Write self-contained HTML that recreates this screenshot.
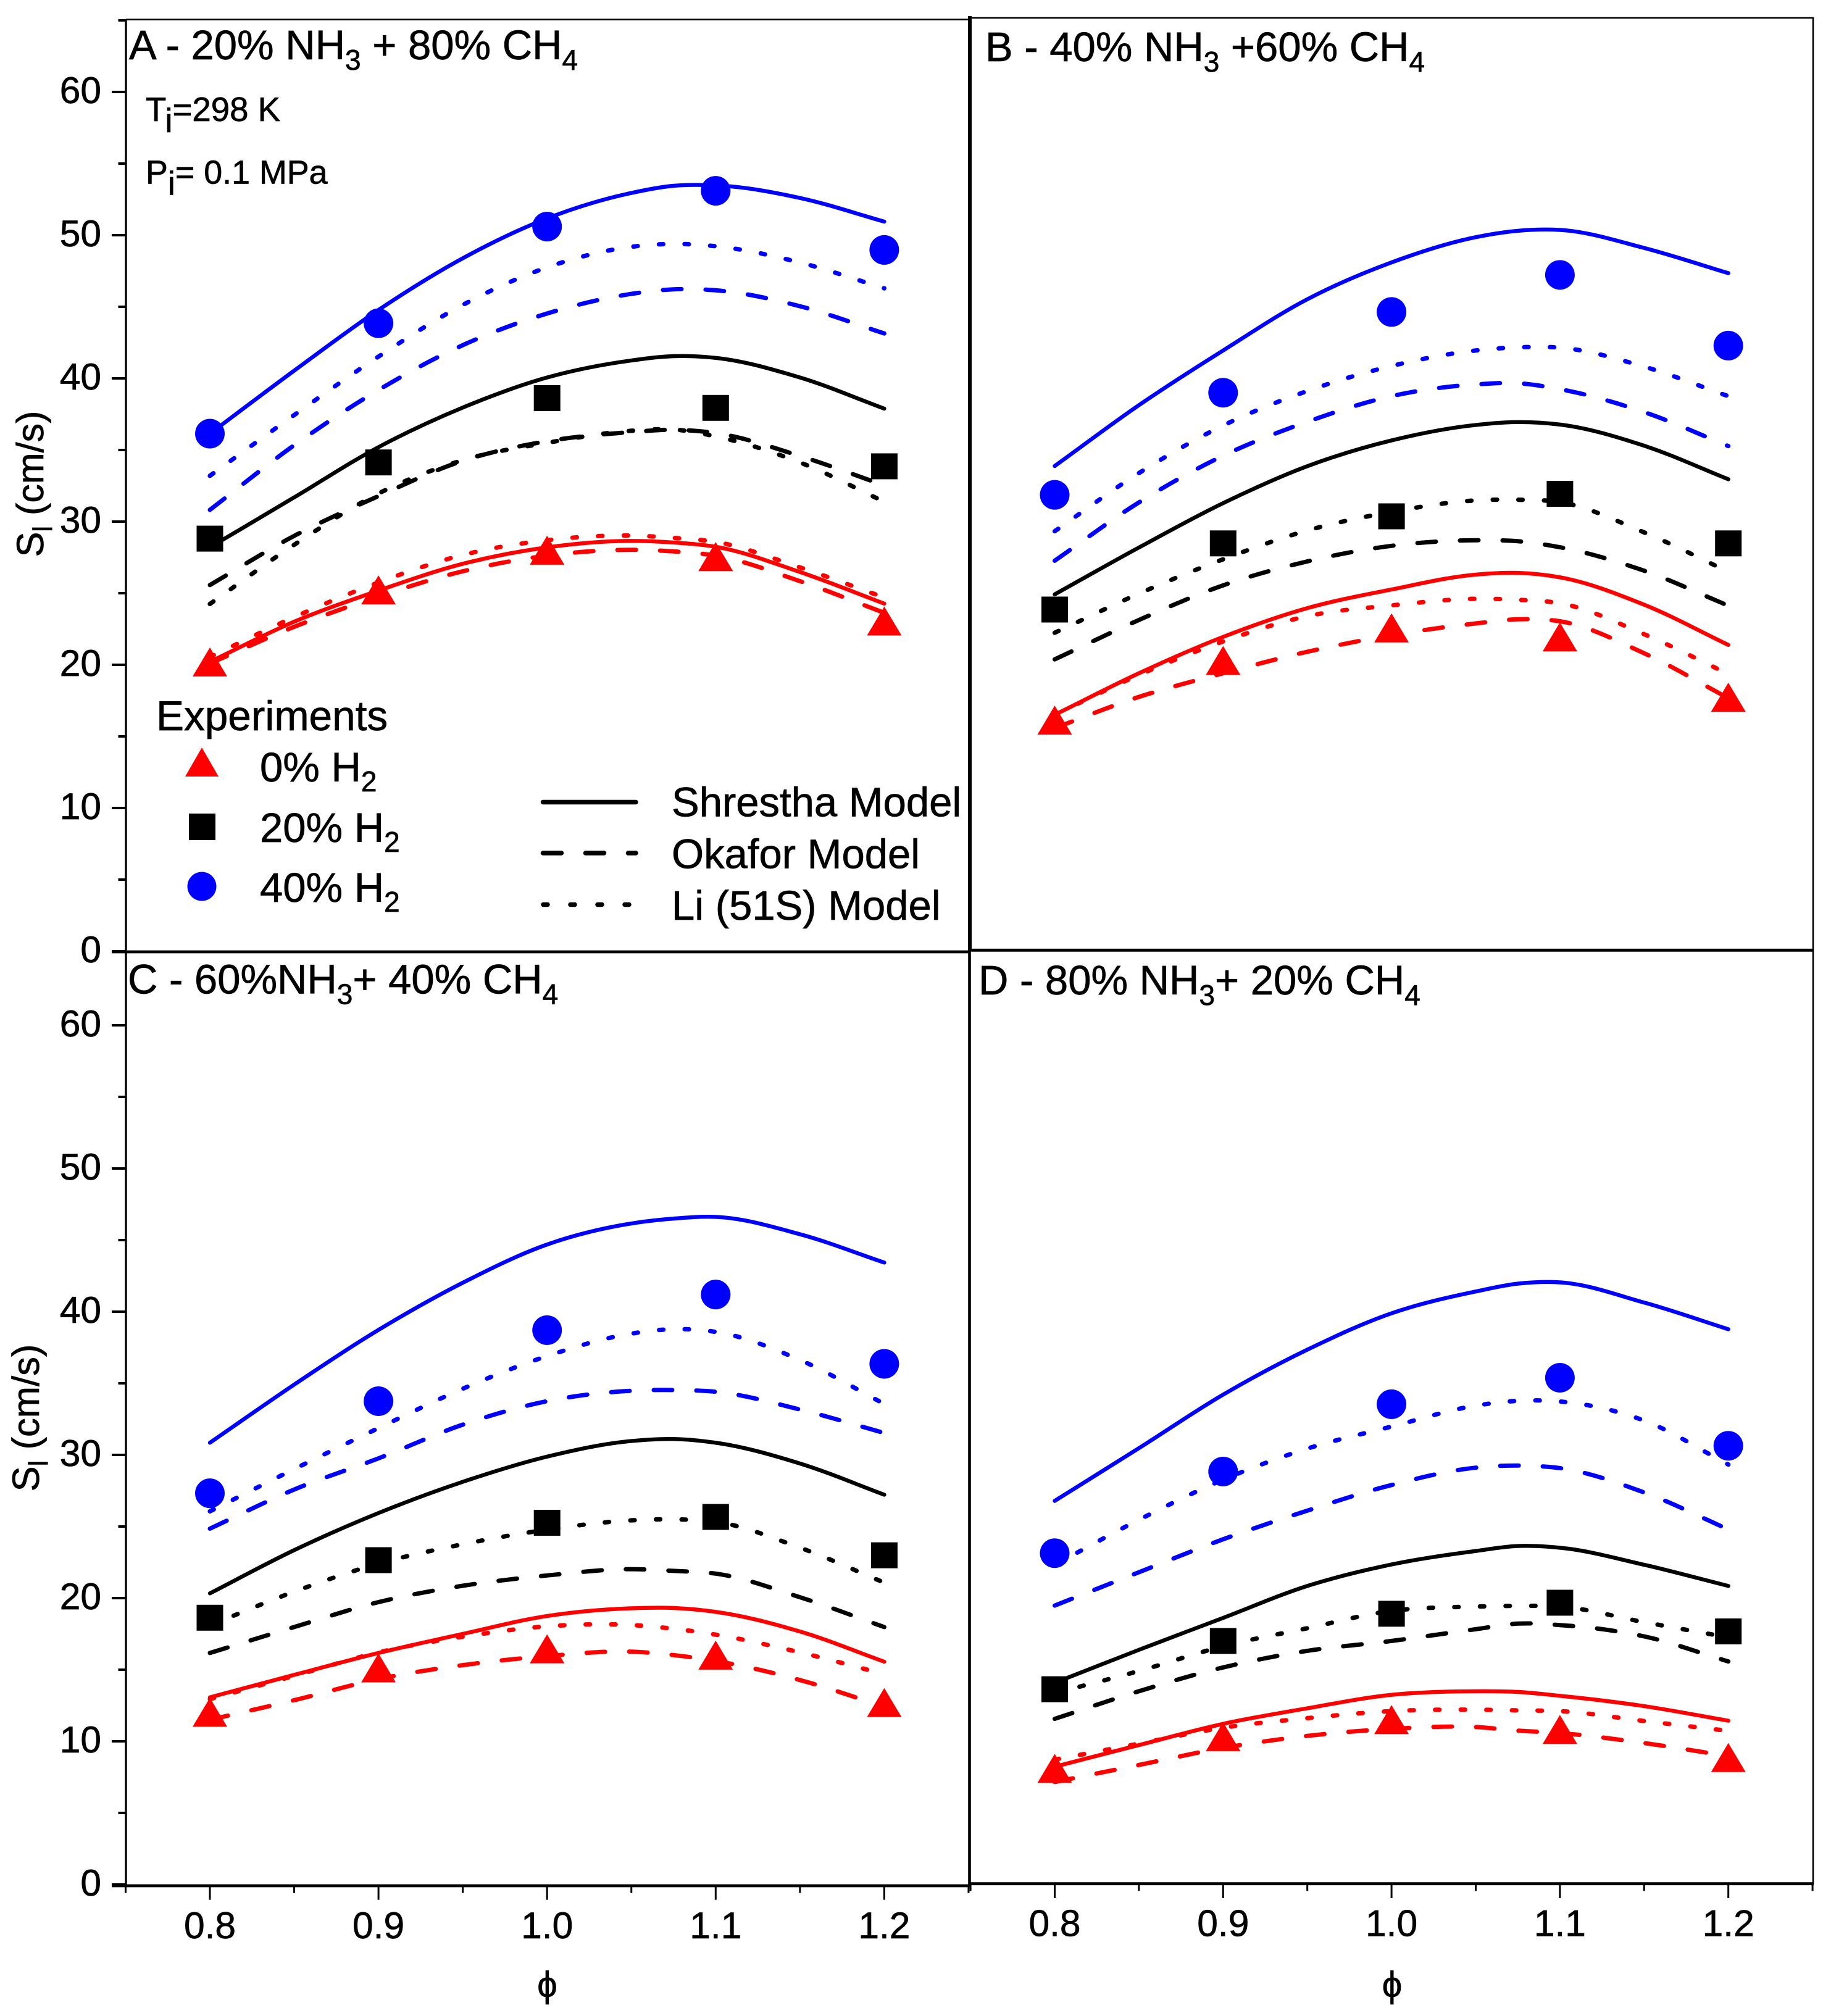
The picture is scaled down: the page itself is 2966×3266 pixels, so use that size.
<!DOCTYPE html>
<html lang="en">
<head>
<meta charset="utf-8">
<title>Laminar burning velocity of NH3/CH4/H2 blends</title>
<style>
html,body{margin:0;padding:0;background:#fff;width:2966px;height:3266px;overflow:hidden}
svg{display:block}
text{font-family:"Liberation Sans",Arial,sans-serif;fill:#000;stroke:#000;stroke-width:.7px}
</style>
</head>
<body>
<svg id="chart" xmlns="http://www.w3.org/2000/svg" width="2966" height="3266" viewBox="0 0 2966 3266">
<rect x="0" y="0" width="2966" height="3266" fill="#fff"/>

<g id="frames" stroke="#000" fill="none">
  <line x1="204" y1="31.7" x2="1571" y2="31.7" stroke-width="2.6"/>
  <line x1="1571" y1="29" x2="2938" y2="29" stroke-width="2.6"/>
  <line x1="2937" y1="28" x2="2937" y2="3052" stroke-width="2.6"/>
  <line x1="204" y1="31" x2="204" y2="1543" stroke-width="3.4"/>
  <line x1="204" y1="1542" x2="204" y2="3056" stroke-width="3.4"/>
  <line x1="1571" y1="26" x2="1571" y2="1540" stroke-width="6"/>
  <line x1="1570.5" y1="1540" x2="1570.5" y2="3054" stroke-width="4.6"/>
  <line x1="181" y1="1542" x2="1571" y2="1542" stroke-width="4.8"/>
  <line x1="1571" y1="1539.3" x2="2938" y2="1539.3" stroke-width="4.8"/>
  <line x1="181" y1="3055" x2="1571" y2="3055" stroke-width="4.8"/>
  <line x1="1571" y1="3051.7" x2="2938" y2="3051.7" stroke-width="4.8"/>
</g>

<g id="ticks"></g>
<g id="marks"></g>

<text x="209" y="96" font-size="67">A - 20% NH<tspan dy="17" font-size="46">3</tspan><tspan dy="-17"> + 80% CH</tspan><tspan dy="17" font-size="46">4</tspan></text>
<text x="1596" y="99" font-size="67">B - 40% NH<tspan dy="17" font-size="46">3</tspan><tspan dy="-17"> +60% CH</tspan><tspan dy="17" font-size="46">4</tspan></text>
<text x="207" y="1609.5" font-size="67">C - 60%NH<tspan dy="17" font-size="46">3</tspan><tspan dy="-17">+ 40% CH</tspan><tspan dy="17" font-size="46">4</tspan></text>
<text x="1585" y="1611" font-size="67">D - 80% NH<tspan dy="17" font-size="46">3</tspan><tspan dy="-17">+ 20% CH</tspan><tspan dy="17" font-size="46">4</tspan></text>

<text x="236" y="196" font-size="54.6">T<tspan dy="18">i</tspan><tspan dy="-18">=298 K</tspan></text>
<text x="236" y="297.5" font-size="53.8">P<tspan dy="18">i</tspan><tspan dy="-18">= 0.1 MPa</tspan></text>

<text transform="translate(70 784) rotate(-90)" text-anchor="middle" font-size="61">S<tspan dy="14" font-size="44">l</tspan><tspan dy="-14"> (cm/s)</tspan></text>
<text transform="translate(63 2297) rotate(-90)" text-anchor="middle" font-size="61.5">S<tspan dy="14" font-size="44">l</tspan><tspan dy="-14"> (cm/s)</tspan></text>
<text x="886.5" y="3235" text-anchor="middle" font-size="58">ϕ</text>
<text x="2255" y="3235" text-anchor="middle" font-size="58">ϕ</text>

<g>
  <text x="253" y="1183" font-size="67.5">Experiments</text>
  <polygon points="327,1211 354,1258 300,1258" fill="#f00"/>
  <text x="421" y="1266" font-size="67">0% H<tspan dy="16" font-size="46">2</tspan></text>
  <rect x="306" y="1318" width="43" height="43" fill="#000"/>
  <text x="421" y="1364" font-size="67">20% H<tspan dy="16" font-size="46">2</tspan></text>
  <circle cx="327" cy="1436" r="23.5" fill="#00f"/>
  <text x="421" y="1461" font-size="67">40% H<tspan dy="16" font-size="46">2</tspan></text>
</g>
<g>
  <line x1="879.5" y1="1299.5" x2="1030" y2="1299.5" stroke="#000" stroke-width="7.5" stroke-linecap="round"/>
  <text x="1088" y="1322.5" font-size="67">Shrestha Model</text>
  <line x1="879.5" y1="1382" x2="1030" y2="1382" stroke="#000" stroke-width="7.5" stroke-linecap="round" stroke-dasharray="30 39"/>
  <text x="1088" y="1406.7" font-size="67">Okafor Model</text>
  <line x1="880" y1="1465.5" x2="1022" y2="1465.5" stroke="#000" stroke-width="7.5" stroke-linecap="round" stroke-dasharray="7 37"/>
  <text x="1088" y="1490" font-size="67">Li (51S) Model</text>
</g>
</svg>

<script>
// Shared axis values
const phiGrid = [0.8, 0.85, 0.9, 0.95, 1.0, 1.05, 1.075, 1.1, 1.15, 1.2];
const markerPhi = [0.8, 0.9, 1.0, 1.1, 1.2];
const yTickLabels = [0, 10, 20, 30, 40, 50, 60];
const yMinorTicks = [5, 15, 25, 35, 45, 55];
const xTickLabels = ['0.8', '0.9', '1.0', '1.1', '1.2'];
const xMinorTicks = [0.75, 0.85, 0.95, 1.05, 1.15, 1.25];

// Panel A
const aCircles = [36.14, 43.85, 50.6, 53.1, 48.97];
const aSquares = [28.81, 34.13, 38.62, 37.94, 33.86];
const aTriangles = [20.2, 25.23, 28.0, 27.56, 23.06];
const aBlueSolid = [36.14, 40.54, 44.78, 48.39, 51.17, 52.95, 53.45, 53.48, 52.6, 50.95];
const aBlueDot = [33.2, 37.44, 41.52, 45.13, 47.75, 49.19, 49.39, 49.23, 48.09, 46.29];
const aBlueDash = [30.82, 35.33, 39.19, 42.32, 44.53, 45.9, 46.22, 46.15, 45.04, 43.14];
const aBlackSolid = [28.2, 31.69, 35.2, 37.96, 40.06, 41.25, 41.55, 41.43, 40.06, 37.89];
const aBlackDot = [24.25, 28.38, 31.96, 34.29, 35.5, 36.34, 36.43, 35.95, 34.13, 31.39];
const aBlackDash = [25.57, 29.0, 31.78, 34.24, 35.61, 36.25, 36.41, 36.18, 34.58, 32.53];
const aRedSolid = [20.21, 23.01, 25.18, 27.05, 28.2, 28.65, 28.54, 28.24, 26.48, 24.27];
const aRedDot = [20.55, 23.33, 25.75, 27.67, 28.7, 29.02, 28.86, 28.58, 26.8, 24.7];
const aRedDash = [20.09, 22.65, 24.77, 26.53, 27.62, 28.03, 27.92, 27.62, 25.84, 23.63];

// Panel B
const bCircles = [31.76, 38.89, 44.53, 47.12, 42.18];
const bSquares = [23.75, 28.37, 30.26, 31.83, 28.37];
const bTriangles = [16.03, 20.2, 22.47, 21.84, 17.63];
const bBlueSolid = [33.77, 38.02, 41.84, 45.42, 47.99, 49.75, 50.2, 50.26, 49.0, 47.24];
const bBlueDot = [29.22, 33.28, 36.6, 39.01, 40.76, 41.84, 42.06, 42.04, 40.71, 38.65];
const bBlueDash = [27.16, 31.23, 34.49, 36.86, 38.65, 39.47, 39.55, 39.14, 37.54, 35.17];
const bBlackSolid = [24.81, 28.08, 31.18, 33.76, 35.56, 36.64, 36.84, 36.67, 35.19, 32.85];
const bBlackDot = [22.13, 24.86, 27.26, 29.27, 30.57, 31.37, 31.42, 31.25, 29.14, 26.39];
const bBlackDash = [20.27, 23.02, 25.44, 27.11, 28.2, 28.59, 28.52, 28.1, 26.46, 24.02];
const bRedSolid = [16.4, 19.3, 21.84, 23.85, 25.15, 26.19, 26.31, 26.0, 24.09, 21.28];
const bRedDot = [16.4, 19.18, 21.52, 23.29, 24.04, 24.5, 24.43, 24.19, 22.03, 19.25];
const bRedDash = [15.48, 17.65, 19.3, 20.8, 21.96, 22.78, 23.07, 22.93, 20.7, 17.56];

// Panel C
const cCircles = [27.32, 33.75, 38.71, 41.2, 36.36];
const cSquares = [18.63, 22.65, 25.26, 25.67, 22.99];
const cTriangles = [12.03, 15.13, 16.46, 16.02, 12.71];
const cBlueSolid = [30.85, 34.91, 38.73, 42.02, 44.69, 46.16, 46.5, 46.62, 45.41, 43.43];
const cBlueDot = [26.06, 29.01, 31.87, 34.62, 36.9, 38.47, 38.78, 38.59, 36.63, 33.56];
const cBlueDash = [24.85, 27.58, 29.76, 32.11, 33.75, 34.48, 34.53, 34.41, 33.17, 31.53];
const cBlackSolid = [20.33, 23.35, 25.94, 28.12, 29.88, 30.97, 31.11, 30.85, 29.4, 27.22];
const cBlackDot = [18.1, 20.45, 22.41, 23.76, 24.78, 25.43, 25.5, 25.33, 23.52, 21.08];
const cBlackDash = [16.17, 17.98, 19.72, 20.86, 21.58, 22.02, 21.9, 21.71, 20.06, 17.98];
const cRedSolid = [13.07, 14.64, 16.17, 17.5, 18.75, 19.29, 19.31, 19.04, 17.67, 15.56];
const cRedDot = [12.95, 14.57, 16.21, 17.3, 18.03, 18.12, 17.86, 17.45, 16.21, 14.69];
const cRedDash = [11.5, 12.87, 14.35, 15.32, 15.95, 16.26, 16.02, 15.61, 14.28, 12.42];

// Panel D
const dCircles = [23.03, 28.73, 33.43, 35.28, 30.53];
const dSquares = [13.53, 16.9, 18.8, 19.57, 17.57];
const dTriangles = [8.0, 10.22, 11.41, 10.72, 8.76];
const dBlueSolid = [26.68, 30.36, 34.1, 37.24, 39.78, 41.3, 41.85, 41.94, 40.53, 38.67];
const dBlueDot = [22.22, 25.36, 28.16, 30.33, 31.87, 33.33, 33.67, 33.62, 32.29, 29.22];
const dBlueDash = [19.37, 21.7, 24.0, 26.0, 27.79, 29.0, 29.15, 28.97, 27.27, 24.69];
const dBlackSolid = [13.98, 16.28, 18.51, 20.74, 22.24, 23.18, 23.53, 23.41, 22.22, 20.74];
const dBlackDot = [13.26, 14.8, 16.53, 17.79, 19.0, 19.3, 19.35, 19.3, 18.21, 17.15];
const dBlackDash = [11.46, 13.39, 15.05, 16.21, 16.9, 17.72, 18.11, 18.01, 17.22, 15.47];
const dRedSolid = [8.12, 9.63, 11.11, 12.2, 13.14, 13.39, 13.34, 13.07, 12.35, 11.33];
const dRedDot = [8.61, 9.73, 10.84, 11.51, 12.0, 12.1, 12.05, 12.0, 11.31, 10.62];
const dRedDash = [7.05, 8.24, 9.43, 10.27, 10.76, 10.89, 10.64, 10.47, 9.77, 8.86];

const NS = 'http://www.w3.org/2000/svg';
const marksLayer = document.getElementById('marks');
const ticksLayer = document.getElementById('ticks');

function makeX(origin, scale) { return function (phi) { return origin + (phi - 0.8) * scale; }; }
function makeY(zero) { return function (v) { return zero - v * 23.2; }; }

function create(tag, parent, props) {
  const el = document.createElementNS(NS, tag);
  for (const k in props) el.setAttribute(k, props[k]);
  parent.appendChild(el);
  return el;
}

function smoothPath(xs, ys) {
  const n = xs.length, m = [];
  for (let i = 0; i < n; i++) {
    if (i === 0) { m.push((ys[1] - ys[0]) / (xs[1] - xs[0])); continue; }
    if (i === n - 1) { m.push((ys[n - 1] - ys[n - 2]) / (xs[n - 1] - xs[n - 2])); continue; }
    const h0 = xs[i] - xs[i - 1], h1 = xs[i + 1] - xs[i];
    const d0 = (ys[i] - ys[i - 1]) / h0, d1 = (ys[i + 1] - ys[i]) / h1;
    m.push((h1 * d0 + h0 * d1) / (h0 + h1));
  }
  let d = 'M' + xs[0].toFixed(1) + ' ' + ys[0].toFixed(1);
  for (let i = 0; i < n - 1; i++) {
    const h = (xs[i + 1] - xs[i]) / 3;
    d += 'C' + (xs[i] + h).toFixed(1) + ' ' + (ys[i] + m[i] * h).toFixed(1) + ' ' +
         (xs[i + 1] - h).toFixed(1) + ' ' + (ys[i + 1] - m[i + 1] * h).toFixed(1) + ' ' +
         xs[i + 1].toFixed(1) + ' ' + ys[i + 1].toFixed(1);
  }
  return d;
}

function drawLine(panel, colorName, color, styleName, values, x, y) {
  const xs = phiGrid.map(x);
  const ys = values.map(y);
  const props = { d: smoothPath(xs, ys), fill: 'none', stroke: color, 'stroke-linecap': 'round', 'stroke-linejoin': 'round' };
  if (styleName === 'solid') props['stroke-width'] = 6.4;
  if (styleName === 'dashed') { props['stroke-width'] = 7; props['stroke-dasharray'] = '30 39'; }
  if (styleName === 'dotted') { props['stroke-width'] = 7.2; props['stroke-dasharray'] = '7 34.5'; }
  const el = create('path', marksLayer, props);
  
  
}

function drawMarkers(panel, triangles, squares, circles, x, y) {
  markerPhi.forEach(function (phi, i) {
    const px = x(phi);
    const t = create('polygon', marksLayer, {
      points: px + ',' + (y(triangles[i]) - 23.5) + ' ' + (px + 28) + ',' + (y(triangles[i]) + 23.5) + ' ' + (px - 28) + ',' + (y(triangles[i]) + 23.5),
      fill: '#f00'
    });
    
    
    const s = create('rect', marksLayer, { x: px - 21.5, y: y(squares[i]) - 21, width: 43, height: 42, fill: '#000' });
    
    
    const c = create('circle', marksLayer, { cx: px, cy: y(circles[i]), r: 24, fill: '#00f' });
    
    
  });
}

function drawPanel(panel, x, y, series, triangles, squares, circles) {
  series.forEach(function (s) { drawLine(panel, s[0], s[1], s[2], s[3], x, y); });
  drawMarkers(panel, triangles, squares, circles, x, y);
}

function drawYAxis(panel, y, extraMinor) {
  yTickLabels.forEach(function (v) {
    const py = y(v);
    const tick = create('line', ticksLayer, { x1: 181, y1: py, x2: 204, y2: py, stroke: '#000', 'stroke-width': 4 });
    
    
    const label = create('text', ticksLayer, { x: 164, y: py + 18, 'text-anchor': 'end', 'font-size': 60.5 });
    label.textContent = String(v);
    
    
  });
  yMinorTicks.concat(extraMinor).forEach(function (v) {
    const py = y(v);
    const tick = create('line', ticksLayer, { x1: 191.5, y1: py, x2: 204, y2: py, stroke: '#000', 'stroke-width': 4 });
    
    
  });
}

function drawXAxis(panel, x, axisY, majorEnd, minorEnd, labelY) {
  xTickLabels.forEach(function (t) {
    const px = x(parseFloat(t));
    const tick = create('line', ticksLayer, { x1: px, y1: axisY, x2: px, y2: majorEnd, stroke: '#000', 'stroke-width': 3 });
    
    
    const label = create('text', ticksLayer, { x: px, y: labelY, 'text-anchor': 'middle', 'font-size': 60.5 });
    label.textContent = t;
    
    
  });
  xMinorTicks.forEach(function (v) {
    const px = x(v);
    const tick = create('line', ticksLayer, { x1: px, y1: axisY, x2: px, y2: minorEnd, stroke: '#000', 'stroke-width': 3 });
    
    
  });
}

const BLUE = '#00f', BLACK = '#000', RED = '#f00';
const xLeft = makeX(340, 2731);
const xRight = makeX(1708.5, 2728);
const yA = makeY(1541);
const yB = makeY(1538.5);
const yC = makeY(3053);
const yD = makeY(3050.5);

drawYAxis('a', yA, [65]);
drawYAxis('c', yC, []);
drawXAxis('c', xLeft, 3055, 3077.7, 3066.7, 3140);
drawXAxis('d', xRight, 3051.7, 3075, 3063.5, 3136.7);

drawPanel('a', xLeft, yA, [
  ['blue', BLUE, 'solid', aBlueSolid], ['blue', BLUE, 'dotted', aBlueDot], ['blue', BLUE, 'dashed', aBlueDash],
  ['black', BLACK, 'solid', aBlackSolid], ['black', BLACK, 'dotted', aBlackDot], ['black', BLACK, 'dashed', aBlackDash],
  ['red', RED, 'solid', aRedSolid], ['red', RED, 'dotted', aRedDot], ['red', RED, 'dashed', aRedDash]
], aTriangles, aSquares, aCircles);

drawPanel('b', xRight, yB, [
  ['blue', BLUE, 'solid', bBlueSolid], ['blue', BLUE, 'dotted', bBlueDot], ['blue', BLUE, 'dashed', bBlueDash],
  ['black', BLACK, 'solid', bBlackSolid], ['black', BLACK, 'dotted', bBlackDot], ['black', BLACK, 'dashed', bBlackDash],
  ['red', RED, 'solid', bRedSolid], ['red', RED, 'dotted', bRedDot], ['red', RED, 'dashed', bRedDash]
], bTriangles, bSquares, bCircles);

drawPanel('c', xLeft, yC, [
  ['blue', BLUE, 'solid', cBlueSolid], ['blue', BLUE, 'dotted', cBlueDot], ['blue', BLUE, 'dashed', cBlueDash],
  ['black', BLACK, 'solid', cBlackSolid], ['black', BLACK, 'dotted', cBlackDot], ['black', BLACK, 'dashed', cBlackDash],
  ['red', RED, 'solid', cRedSolid], ['red', RED, 'dotted', cRedDot], ['red', RED, 'dashed', cRedDash]
], cTriangles, cSquares, cCircles);

drawPanel('d', xRight, yD, [
  ['blue', BLUE, 'solid', dBlueSolid], ['blue', BLUE, 'dotted', dBlueDot], ['blue', BLUE, 'dashed', dBlueDash],
  ['black', BLACK, 'solid', dBlackSolid], ['black', BLACK, 'dotted', dBlackDot], ['black', BLACK, 'dashed', dBlackDash],
  ['red', RED, 'solid', dRedSolid], ['red', RED, 'dotted', dRedDot], ['red', RED, 'dashed', dRedDash]
], dTriangles, dSquares, dCircles);
</script>
</body>
</html>
